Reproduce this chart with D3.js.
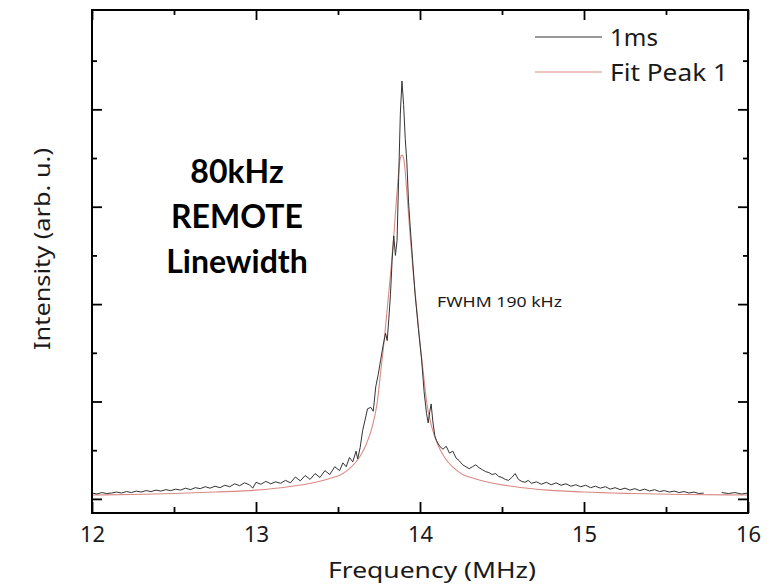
<!DOCTYPE html>
<html>
<head>
<meta charset="utf-8">
<script src="https://cdn.jsdelivr.net/npm/d3@7"></script>
<style>
  body { margin: 0; background: #fff; }
  svg text { font-family: "Noto Sans", sans-serif; fill: #1a1a1a; }
</style>
</head>
<body>
<svg id="chart" width="769" height="584"></svg>
<script>
// measured spectrum (MHz, arb. u.), null = gap in the trace
const measFreq = [12.00,12.03,12.06,12.09,12.12,12.15,12.18,12.21,12.24,12.27,12.30,12.33,12.36,12.39,12.42,12.45,12.48,12.51,12.54,12.57,12.60,12.63,12.66,12.69,12.72,12.75,12.78,12.81,12.84,12.87,12.90,12.93,12.96,12.98,13.00,13.03,13.06,13.09,13.12,13.15,13.18,13.21,13.24,13.27,13.30,13.33,13.36,13.39,13.42,13.45,13.48,13.51,13.53,13.55,13.57,13.59,13.61,13.62,13.635,13.65,13.665,13.68,13.70,13.715,13.73,13.745,13.76,13.775,13.79,13.80,13.81,13.82,13.83,13.84,13.85,13.86,13.87,13.88,13.89,13.90,13.91,13.92,13.93,13.94,13.955,13.97,13.99,14.01,14.025,14.04,14.05,14.06,14.068,14.078,14.09,14.10,14.12,14.14,14.16,14.18,14.20,14.22,14.24,14.26,14.28,14.30,14.32,14.34,14.36,14.38,14.40,14.42,14.44,14.46,14.48,14.50,14.52,14.54,14.56,14.58,14.60,14.62,14.64,14.66,14.68,14.71,14.74,14.77,14.80,14.83,14.86,14.89,14.92,14.95,14.98,15.01,15.04,15.07,15.10,15.13,15.16,15.19,15.22,15.25,15.28,15.31,15.34,15.37,15.40,15.43,15.46,15.49,15.52,15.55,15.58,15.61,15.64,15.67,15.70,15.73,15.75,15.84,15.88,15.92,15.96,16.00];
const measVal = [0.12,0.10,0.13,0.11,0.12,0.14,0.12,0.15,0.13,0.16,0.14,0.17,0.15,0.18,0.16,0.19,0.17,0.20,0.18,0.22,0.19,0.23,0.21,0.25,0.22,0.26,0.23,0.28,0.25,0.31,0.27,0.33,0.29,0.22,0.34,0.30,0.36,0.31,0.35,0.32,0.38,0.33,0.45,0.37,0.48,0.40,0.52,0.44,0.58,0.50,0.66,0.58,0.74,0.66,0.85,0.76,0.98,0.82,1.05,1.40,1.62,1.85,1.88,1.80,2.30,2.55,2.85,3.15,3.40,3.25,3.70,4.20,4.90,5.40,5.00,5.30,6.60,7.90,8.58,8.10,7.40,6.90,6.10,5.60,4.90,4.20,3.50,2.85,2.20,1.75,1.56,1.80,1.95,1.60,1.30,1.20,1.08,1.02,1.08,0.94,0.98,0.84,0.78,0.70,0.66,0.62,0.66,0.70,0.64,0.60,0.56,0.54,0.50,0.52,0.46,0.44,0.40,0.38,0.44,0.52,0.40,0.36,0.34,0.38,0.32,0.35,0.30,0.34,0.29,0.33,0.28,0.31,0.26,0.29,0.25,0.28,0.23,0.26,0.22,0.25,0.20,0.23,0.19,0.22,0.18,0.21,0.17,0.20,0.16,0.19,0.15,0.17,0.14,0.16,0.13,0.15,0.12,0.14,0.11,0.12,null,0.13,0.11,0.13,0.10,0.12];

// fit curve
const fitFreq = [12.0,12.25,12.5,12.75,13.0,13.2,13.35,13.45,13.52,13.58,13.63,13.67,13.71,13.74,13.76,13.78,13.80,13.82,13.84,13.86,13.88,13.89,13.90,13.92,13.94,13.96,13.98,14.00,14.02,14.04,14.07,14.11,14.15,14.20,14.26,14.33,14.43,14.58,14.78,15.0,15.3,15.6,16.0];
const fitVal = [0.08,0.09,0.11,0.14,0.18,0.25,0.33,0.42,0.50,0.65,0.85,1.10,1.50,2.00,2.60,3.20,3.90,4.60,5.40,6.30,7.00,7.06,7.00,6.30,5.40,4.60,3.90,3.20,2.60,2.00,1.50,1.10,0.85,0.65,0.50,0.42,0.33,0.25,0.18,0.14,0.11,0.09,0.08];

const xTicks = [12, 13, 14, 15, 16];
const xMinor = [12.5, 13.5, 14.5, 15.5];
const yMajor = [0, 2, 4, 6, 8];
const yMinor = [1, 3, 5, 7, 9];

const seriesNames = ["1ms", "Fit Peak 1"];
const seriesColors = ["#333333", "#d98a84"];

const margin = {left: 92, right: 21, top: 10, bottom: 71};
const W = 769, H = 584;
const iw = W - margin.left - margin.right, ih = H - margin.top - margin.bottom;

const svg = d3.select("#chart");
const g = svg.append("g").attr("transform", `translate(${margin.left},${margin.top})`);

const x = d3.scaleLinear().domain([12, 16]).range([0, iw]);
const y = d3.scaleLinear().domain([-0.29, 10.04]).range([ih, 0]);

const meas = measFreq.map((f, i) => ({f, v: measVal[i]}));
const fit = fitFreq.map((f, i) => ({f, v: fitVal[i]}));

// curves
const fitLine = d3.line().x(d => x(d.f)).y(d => y(d.v)).curve(d3.curveMonotoneX);
const measLine = d3.line().defined(d => d.v !== null).x(d => x(d.f)).y(d => y(d.v));
g.append("path").attr("d", fitLine(fit))
  .attr("fill", "none").attr("stroke", seriesColors[1]).attr("stroke-width", 1.1);
g.append("path").attr("d", measLine(meas))
  .attr("fill", "none").attr("stroke", seriesColors[0]).attr("stroke-width", 1);

// axes, ticks pointing inward on all four sides
function tickAxis(axisFn, scale, vals, len, tr) {
  const a = g.append("g").attr("transform", tr)
    .call(axisFn(scale).tickValues(vals).tickSize(-len).tickFormat(""));
  a.select(".domain").remove();
  a.selectAll("line").attr("stroke", "#000").attr("stroke-width", 1.8);
}
tickAxis(d3.axisBottom, x, xTicks, 11, `translate(0,${ih})`);
tickAxis(d3.axisBottom, x, xMinor, 6, `translate(0,${ih})`);
tickAxis(d3.axisTop, x, xTicks, 10, "translate(0,0)");
tickAxis(d3.axisTop, x, xMinor, 5, "translate(0,0)");
tickAxis(d3.axisLeft, y, yMajor, 10, "translate(0,0)");
tickAxis(d3.axisLeft, y, yMinor, 5, "translate(0,0)");
tickAxis(d3.axisRight, y, yMajor, 10, `translate(${iw},0)`);
tickAxis(d3.axisRight, y, yMinor, 5, `translate(${iw},0)`);

// x tick labels
const xl = g.append("g").attr("transform", `translate(0,${ih})`)
  .call(d3.axisBottom(x).tickValues(xTicks).tickSize(0).tickPadding(13).tickFormat(d3.format("d")));
xl.select(".domain").remove();
xl.selectAll("text").attr("font-size", 22).attr("font-family", "Noto Sans").attr("fill", "#1a1a1a");

// frame
g.append("rect").attr("width", iw).attr("height", ih)
  .attr("fill", "none").attr("stroke", "#000").attr("stroke-width", 2);

// axis titles
svg.append("text").attr("x", 432).attr("y", 578)
  .attr("text-anchor", "middle").attr("font-size", 22)
  .attr("textLength", 208).attr("lengthAdjust", "spacingAndGlyphs").text("Frequency (MHz)");
svg.append("text").attr("transform", `translate(50,249) rotate(-90)`)
  .attr("text-anchor", "middle").attr("font-size", 22)
  .attr("textLength", 202).attr("lengthAdjust", "spacingAndGlyphs").text("Intensity (arb. u.)");

// legend
const legLen = [48, 118];
const leg = svg.append("g");
seriesNames.forEach((name, i) => {
  const ly = 37 + i * 35;
  leg.append("line").attr("x1", 535).attr("x2", 602).attr("y1", ly).attr("y2", ly)
    .attr("stroke", seriesColors[i]).attr("stroke-width", 1.1);
  leg.append("text").attr("x", 610).attr("y", ly + 9).attr("font-size", 24)
    .attr("textLength", legLen[i]).attr("lengthAdjust", "spacingAndGlyphs").text(name);
});

// annotations
const note = ["80kHz", "REMOTE", "Linewidth"];
note.forEach((t, i) => {
  svg.append("text").attr("x", 237).attr("y", 183 + i * 45)
    .attr("text-anchor", "middle").attr("font-weight", "bold")
    .attr("font-size", 32).style("font-family", "Lato, sans-serif").style("fill", "#000").text(t);
});
svg.append("text").attr("x", 437).attr("y", 307).attr("font-size", 14.5)
  .attr("textLength", 125).attr("lengthAdjust", "spacingAndGlyphs").text("FWHM 190 kHz");
</script>
</body>
</html>
